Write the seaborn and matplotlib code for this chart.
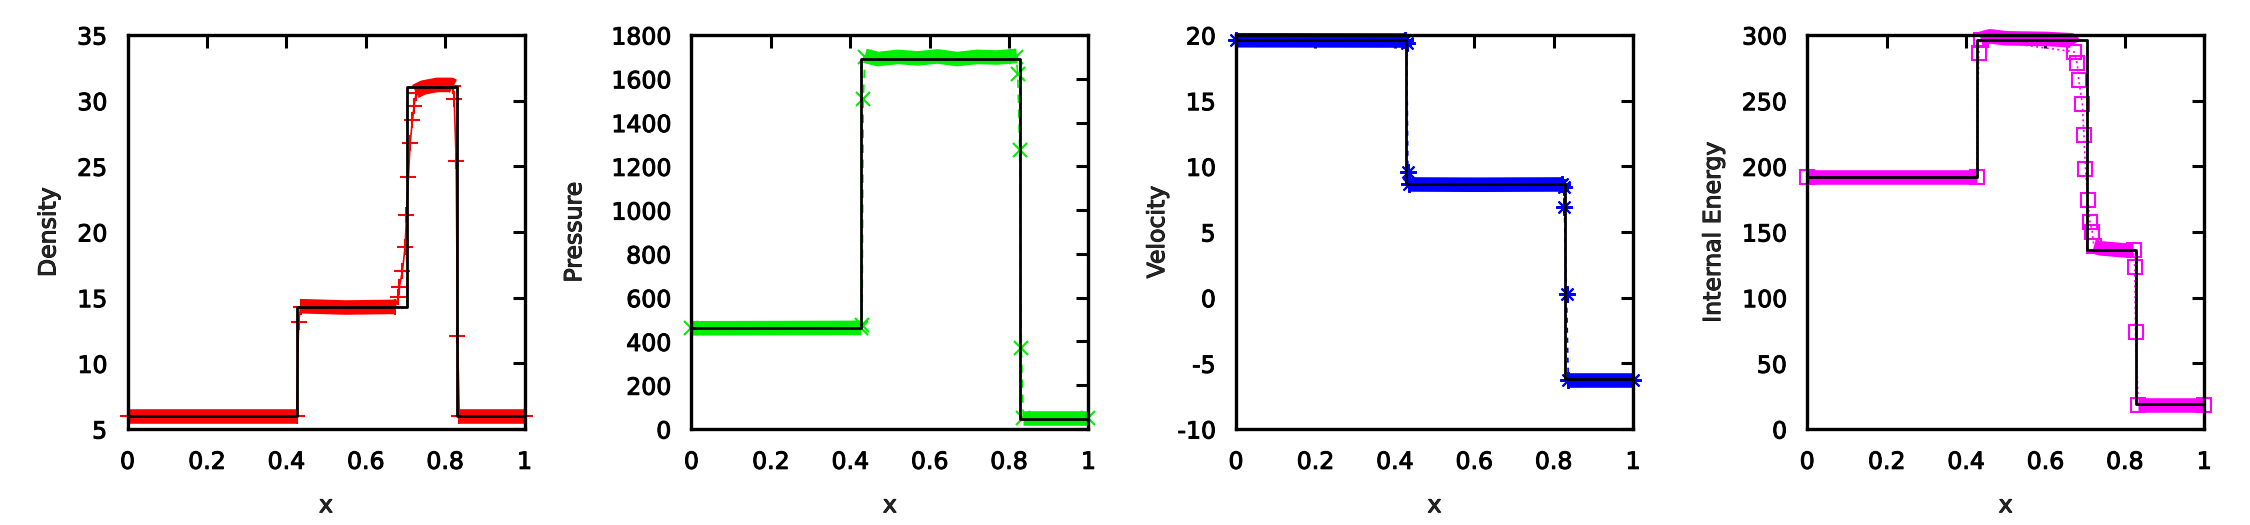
import numpy as np
import pandas as pd
import matplotlib
matplotlib.use("Agg")
import matplotlib.pyplot as plt
import matplotlib.patheffects as pe
import seaborn as sns

# ---------------- data ----------------
# exact Riemann solution: step values starting at each breakpoint
exact_x = [0.0, 0.4276, 0.7041, 0.8288, 1.0]
density_exact = [5.999, 14.282, 31.043, 5.992, 5.992]
pressure_exact = [460.9, 1691.6, 1691.6, 46.1, 46.1]
velocity_exact = [19.60, 8.69, 8.69, -6.20, -6.20]
energy_exact = [192.1, 296.1, 136.2, 19.2, 19.2]

# numerical solution: isolated points (plateau ends + points inside the jumps)
density_x = [0.0, 0.426, 0.431, 0.436, 0.674, 0.6825, 0.685, 0.6926, 0.6993, 0.7027,
             0.7077, 0.712, 0.7178, 0.722, 0.727, 0.820, 0.8228, 0.8279, 0.8312, 0.836, 1.0]
density_y = [6.0, 6.0, 13.12, 14.3, 14.3, 15.07, 15.83, 17.05, 18.88, 21.29,
             24.21, 26.80, 28.53, 29.62, 30.56, 31.1, 30.13, 25.43, 12.08, 5.97, 5.97]
# numerical solution: densely sampled plateaus (drawn as solid bands of markers)
density_band_x = [0.0, 0.426, 0.436, 0.55, 0.674, 0.725, 0.745, 0.78, 0.815, 0.821, 0.836, 1.0]
density_band_y = [6.0, 6.0, 14.35, 14.25, 14.3, 30.7, 31.0, 31.2, 31.2, 31.1, 5.97, 5.97]
density_band_id = [0, 0, 1, 1, 1, 2, 2, 2, 2, 2, 3, 3]

pressure_x = [0.0, 0.428, 0.430, 0.433, 0.437, 0.818, 0.822, 0.827, 0.831, 0.836, 1.0]
pressure_y = [460, 462, 475, 1508, 1700, 1700, 1622, 1275, 369, 48, 48]
pressure_band_x = [0.0, 0.428, 0.437, 0.47, 0.52, 0.57, 0.62, 0.67, 0.72, 0.77, 0.82, 0.836, 1.0]
pressure_band_y = [460, 462, 1705, 1690, 1700, 1693, 1702, 1690, 1700, 1697, 1705, 48, 48]
pressure_band_id = [0, 0, 1, 1, 1, 1, 1, 1, 1, 1, 1, 2, 2]

velocity_x = [0.0, 0.426, 0.430, 0.433, 0.437, 0.821, 0.825, 0.827, 0.8325, 0.837, 1.0]
velocity_y = [19.6, 19.6, 19.37, 9.55, 8.62, 8.62, 8.40, 6.93, 0.25, -6.25, -6.25]
velocity_band_x = [0.0, 0.426, 0.437, 0.60, 0.821, 0.837, 1.0]
velocity_band_y = [19.6, 19.58, 8.62, 8.60, 8.62, -6.25, -6.25]
velocity_band_id = [0, 0, 1, 1, 1, 2, 2]

energy_x = [0.0, 0.427, 0.432, 0.437, 0.672, 0.680, 0.684, 0.693, 0.697, 0.701,
            0.707, 0.712, 0.718, 0.722, 0.822, 0.825, 0.827, 0.834, 1.0]
energy_y = [192.1, 192.1, 286.1, 296.5, 287.3, 278.4, 265.7, 247.5, 223.9, 198.0,
            174.4, 157.9, 150.3, 139.0, 136.0, 123.6, 73.6, 18.5, 18.5]
energy_band_x = [0.0, 0.427, 0.437, 0.46, 0.50, 0.60, 0.665, 0.672,
                 0.722, 0.74, 0.80, 0.822, 0.834, 1.0]
energy_band_y = [192.1, 192.1, 297.0, 299.0, 297.5, 297.0, 296.0, 293.0,
                 139.0, 137.5, 136.0, 136.0, 18.5, 18.5]
energy_band_id = [0, 0, 1, 1, 1, 1, 1, 1, 2, 2, 2, 2, 3, 3]

panels = [
    dict(label="Density", ex=density_exact, px=density_x, py=density_y,
         bx=density_band_x, by=density_band_y, bid=density_band_id,
         color="#ff0000", marker="+", ms=11, mew=1.5, mfc=None, ls="-",
         ylim=(5, 35), yticks=np.arange(5, 36, 5), lpad=12),
    dict(label="Pressure", ex=pressure_exact, px=pressure_x, py=pressure_y,
         bx=pressure_band_x, by=pressure_band_y, bid=pressure_band_id,
         color="#00ee00", marker="x", ms=10, mew=1.5, mfc=None, ls=(0, (5, 4)),
         ylim=(0, 1800), yticks=np.arange(0, 1801, 200), lpad=18),
    dict(label="Velocity", ex=velocity_exact, px=velocity_x, py=velocity_y,
         bx=velocity_band_x, by=velocity_band_y, bid=velocity_band_id,
         color="#0000ff", marker=(8, 2, 0), ms=12, mew=1.5, mfc=None, ls=(0, (3, 3)),
         ylim=(-10, 20), yticks=np.arange(-10, 21, 5), lpad=6),
    dict(label="Internal Energy", ex=energy_exact, px=energy_x, py=energy_y,
         bx=energy_band_x, by=energy_band_y, bid=energy_band_id,
         color="#ff00ff", marker="s", ms=9.5, mew=1.5, mfc="none", ls=(0, (1.2, 2)),
         ylim=(0, 300), yticks=np.arange(0, 301, 50), lpad=12),
]

# ---------------- style ----------------
sns.set_style("white")
plt.rcParams["font.family"] = ["DejaVu Sans"]
plt.rcParams["axes.unicode_minus"] = False
thick = [pe.withStroke(linewidth=0.7, foreground="black")]

fig = plt.figure(figsize=(22.5, 5.25), dpi=100)
lefts = [127.5, 691.4, 1236.0, 1807.2]
W, H = 2250.0, 525.0
for left, p in zip(lefts, panels):
    ax = fig.add_axes([left / W, 96 / H, 397 / W, 394 / H])
    c = p["color"]
    # dense plateau bands
    sns.lineplot(x=p["bx"], y=p["by"], units=p["bid"], estimator=None, sort=False,
                 color=c, linewidth=10.5, solid_capstyle="butt", ax=ax,
                 legend=False, clip_on=False, zorder=2)
    # linespoints of the numerical solution
    mk = dict(marker=p["marker"], markersize=p["ms"], markeredgewidth=p["mew"],
              markeredgecolor=c)
    mk["markerfacecolor"] = p["mfc"] if p["mfc"] is not None else c
    sns.lineplot(x=p["px"], y=p["py"], estimator=None, sort=False, color=c,
                 linewidth=1.2, linestyle=p["ls"], ax=ax, legend=False,
                 clip_on=False, zorder=3, **mk)
    # exact solution
    sns.lineplot(x=exact_x, y=p["ex"], estimator=None, sort=False, color="black",
                 linewidth=2.0, drawstyle="steps-post", ax=ax, legend=False,
                 zorder=5)

    ax.set_xlim(0, 1)
    ax.set_ylim(*p["ylim"])
    ax.set_xticks([0, 0.2, 0.4, 0.6, 0.8, 1.0])
    ax.set_xticklabels(["0", "0.2", "0.4", "0.6", "0.8", "1"])
    ax.set_yticks(p["yticks"])
    ax.set_yticklabels([str(int(v)) for v in p["yticks"]])
    ax.tick_params(axis="both", which="major", direction="in", length=9,
                   width=2.2, top=True, right=True, labelsize=17, colors="black",
                   pad=14.5)
    ax.tick_params(axis="x", pad=15)
    for s in ax.spines.values():
        s.set_linewidth(2.4)
        s.set_color("black")
        s.set_visible(True)
        s.set_zorder(6)
    ax.set_xlabel("x", fontsize=17, labelpad=14)
    ax.set_ylabel(p["label"], fontsize=17, labelpad=p["lpad"])
    for t in ax.get_xticklabels() + ax.get_yticklabels():
        t.set_path_effects(thick)
    ax.xaxis.label.set_path_effects(thick)
    ax.yaxis.label.set_path_effects(thick)
    ax.set_facecolor("white")

fig.savefig("out.png", dpi=100, facecolor="white")
